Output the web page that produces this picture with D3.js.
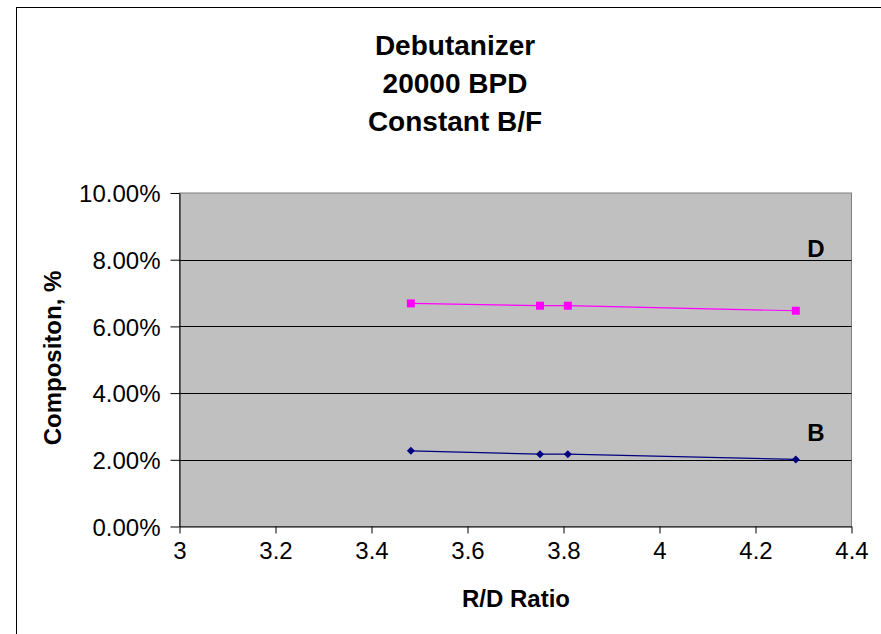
<!DOCTYPE html>
<html lang="en">
  <head>
    <meta charset="utf-8">
    <title>Debutanizer 20000 BPD</title>
    <style type="text/css">
      body { margin: 0; background: #fff; }
      svg { display: block; font-family: "Liberation Sans", Arial, sans-serif; }
    </style>
  </head>
  <body>
    <script src="https://d3js.org/d3.v7.min.js"></script>
    <script type="text/javascript">
    // ===================================
    // DATA
    // ===================================
      var rdRatio = [3.482, 3.751, 3.809, 4.284];
      var compB = [0.0227, 0.0217, 0.0217, 0.0201];
      var compD = [0.0669, 0.0662, 0.0662, 0.0647];
      var xTicks = [3, 3.2, 3.4, 3.6, 3.8, 4, 4.2, 4.4];
      var yTicks = [0, 0.02, 0.04, 0.06, 0.08, 0.10];
      var titleLines = ["Debutanizer", "20000 BPD", "Constant B/F"];

    // ===================================
    // SETUP
    // ===================================
      var w = 881, h = 634;
      // note: "top" is taken by window.top, so plot edges get a prefix
      var plotL = 179.5, plotR = 851.5, plotT = 193, plotB = 526.5;

      var svg = d3.select("body").append("svg")
        .attr("width", w)
        .attr("height", h);

      // outer chart border (runs past the right/bottom of the picture)
      svg.append("rect")
        .attr("x", 16.5).attr("y", 7.5)
        .attr("width", 1000).attr("height", 1000)
        .attr("fill", "none")
        .attr("stroke", "#000");

      var x = d3.scaleLinear().domain([3, 4.4]).range([plotL, plotR]);
      var y = d3.scaleLinear().domain([0, 0.10]).range([plotB, plotT]);

      // plot area
      svg.append("rect")
        .attr("x", plotL).attr("y", plotT)
        .attr("width", plotR - plotL).attr("height", plotB - plotT)
        .attr("fill", "#c0c0c0")
        .attr("stroke", "#808080");

      // gridlines
      svg.append("g").selectAll("line")
        .data(yTicks.slice(1, -1))
        .enter().append("line")
        .attr("x1", plotL).attr("x2", plotR)
        .attr("y1", function(d) { return Math.round(y(d)) + 0.5; })
        .attr("y2", function(d) { return Math.round(y(d)) + 0.5; })
        .attr("stroke", "#000");

      // axes
      var xAxis = svg.append("g")
        .attr("transform", "translate(0," + plotB + ")")
        .call(d3.axisBottom(x).tickValues(xTicks)
          .tickFormat(d3.format("~g")).tickSizeInner(7).tickSizeOuter(0).tickPadding(8));

      var yAxis = svg.append("g")
        .attr("transform", "translate(" + plotL + ",0)")
        .call(d3.axisLeft(y).tickValues(yTicks)
          .tickFormat(d3.format(".2%")).tickSizeInner(9).tickSizeOuter(0).tickPadding(10));

      [xAxis, yAxis].forEach(function(a) {
        a.select(".domain").attr("stroke", "#000");
        a.selectAll(".tick line").attr("stroke", "#000");
        a.selectAll(".tick text")
          .attr("font-size", 24)
          .attr("font-family", "Liberation Sans, Arial, sans-serif")
          .attr("fill", "#000");
      });
      yAxis.selectAll(".tick text").attr("dy", "0.36em");

    // ===================================
    // SERIES
    // ===================================
      var line = d3.line()
        .x(function(d) { return x(d[0]); })
        .y(function(d) { return y(d[1]); });

      var ptsB = d3.zip(rdRatio, compB);
      var ptsD = d3.zip(rdRatio, compD);

      svg.append("path").datum(ptsD)
        .attr("d", line).attr("fill", "none")
        .attr("stroke", "#ff00ff").attr("stroke-width", 1.2);

      svg.append("path").datum(ptsB)
        .attr("d", line).attr("fill", "none")
        .attr("stroke", "#000080").attr("stroke-width", 1.2);

      svg.append("g").selectAll("rect")
        .data(ptsD)
        .enter().append("rect")
        .attr("x", function(d) { return x(d[0]) - 4; })
        .attr("y", function(d) { return y(d[1]) - 4; })
        .attr("width", 8).attr("height", 8)
        .attr("fill", "#ff00ff");

      svg.append("g").selectAll("path")
        .data(ptsB)
        .enter().append("path")
        .attr("d", d3.symbol().type(d3.symbolSquare).size(32))
        .attr("transform", function(d) {
          return "translate(" + x(d[0]) + "," + y(d[1]) + ") rotate(45)";
        })
        .attr("fill", "#000080");

    // ===================================
    // LABELS
    // ===================================
      svg.append("text")
        .attr("x", 816).attr("y", 257)
        .attr("text-anchor", "middle")
        .attr("font-size", 24).attr("font-weight", "bold")
        .text("D");

      svg.append("text")
        .attr("x", 816).attr("y", 441)
        .attr("text-anchor", "middle")
        .attr("font-size", 24).attr("font-weight", "bold")
        .text("B");

      svg.append("g").selectAll("text")
        .data(titleLines)
        .enter().append("text")
        .attr("x", 455)
        .attr("y", function(d, i) { return 55 + i * 38; })
        .attr("text-anchor", "middle")
        .attr("font-size", 28).attr("font-weight", "bold")
        .text(function(d) { return d; });

      svg.append("text")
        .attr("x", 516).attr("y", 607)
        .attr("text-anchor", "middle")
        .attr("font-size", 24).attr("font-weight", "bold")
        .text("R/D Ratio");

      svg.append("text")
        .attr("transform", "translate(61,358) rotate(-90)")
        .attr("text-anchor", "middle")
        .attr("font-size", 24).attr("font-weight", "bold")
        .text("Compositon, %");
    </script>
  </body>
</html>
